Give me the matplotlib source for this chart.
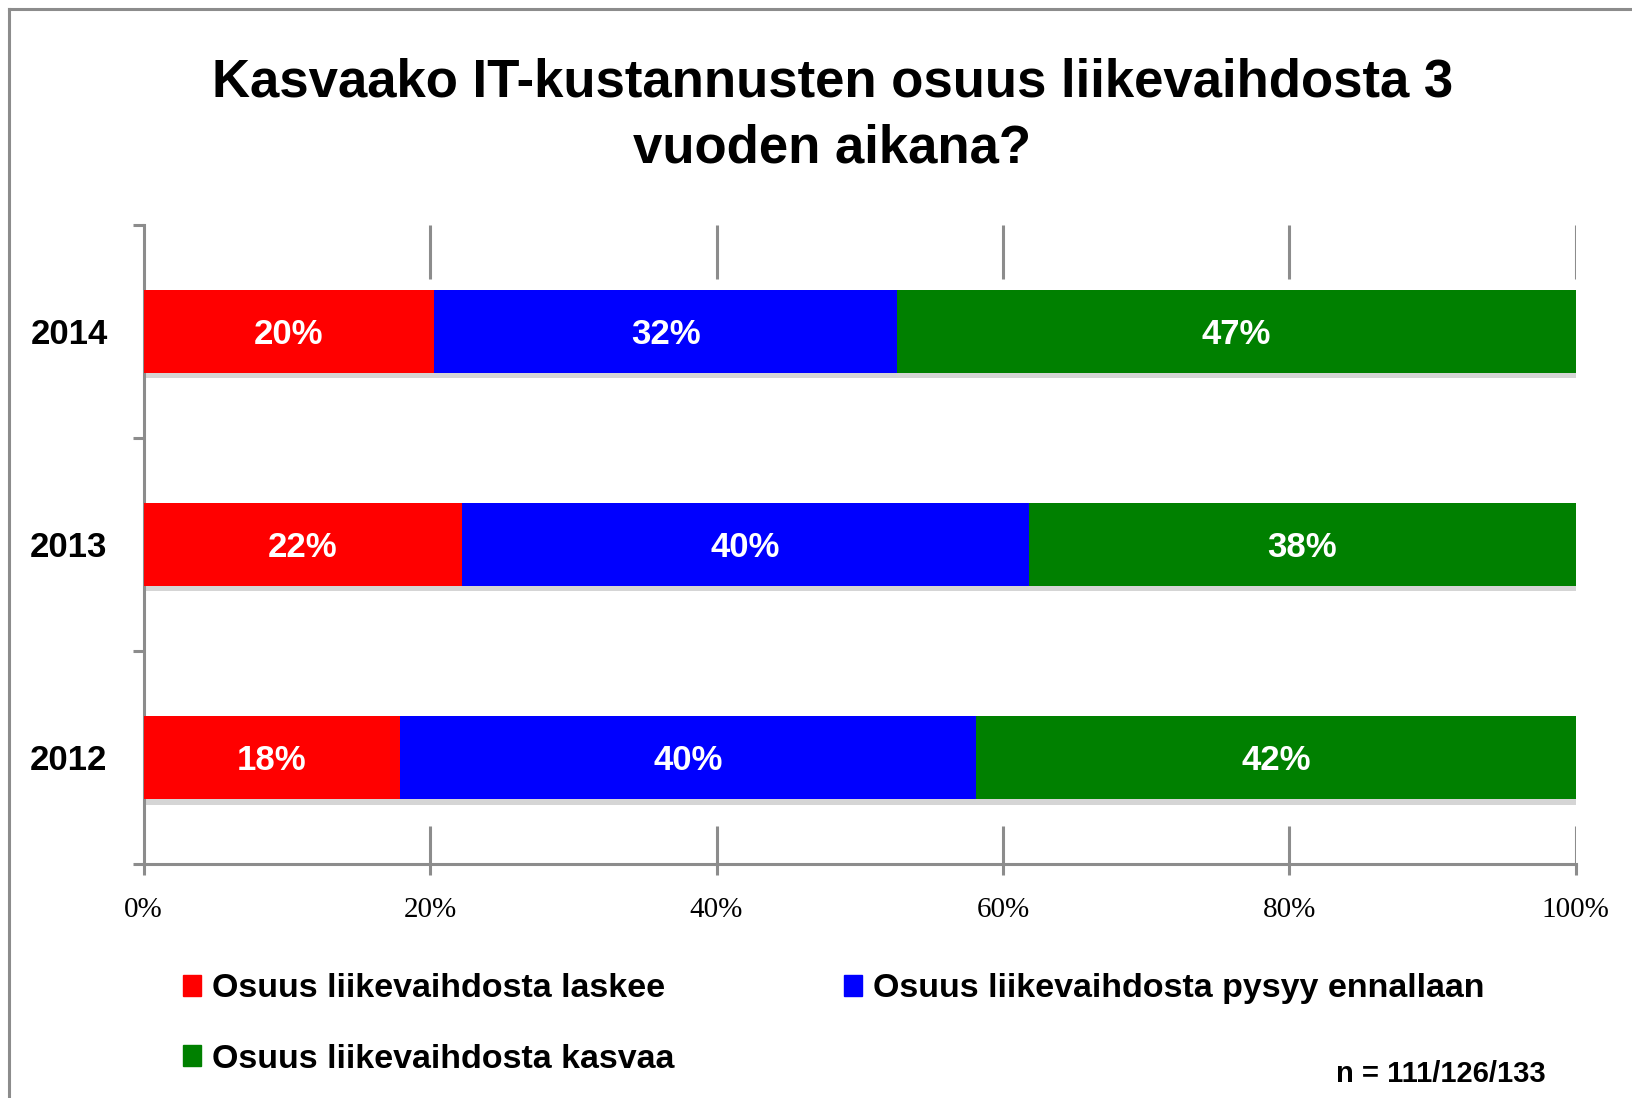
import matplotlib.pyplot as plt
import matplotlib.patheffects as pe
from matplotlib.lines import Line2D
from matplotlib.patches import Patch

years = ['2012', '2013', '2014']
laskee = [17.9, 22.2, 20.3]
pysyy = [40.2, 39.6, 32.3]
kasvaa = [41.9, 38.2, 47.4]

series_names = ['Osuus liikevaihdosta laskee',
                'Osuus liikevaihdosta pysyy ennallaan',
                'Osuus liikevaihdosta kasvaa']
colors = ['#ff0000', '#0000ff', '#008000']
x_ticks = [0, 20, 40, 60, 80, 100]

SANS = 'Liberation Sans'
SERIF = 'Liberation Serif'
GREY = '#8c8c8c'

fig = plt.figure(figsize=(16.32, 10.98), dpi=100)
ax = fig.add_axes([0.088, 0.2131, 0.8776, 0.5822])

shadow = [pe.SimplePatchShadow(offset=(2, -4), shadow_rgbFace='#888888', alpha=0.35),
          pe.Normal()]

ypos = range(len(years))
left = [0] * len(years)
for vals, col in zip((laskee, pysyy, kasvaa), colors):
    bars = ax.barh(ypos, vals, left=left, height=0.39, color=col, zorder=3)
    for b, v, l in zip(bars, vals, left):
        b.set_path_effects(shadow)
        ax.text(l + v / 2, b.get_y() + b.get_height() / 2, f'{round(v)}%',
                ha='center', va='center_baseline', color='white', fontsize=25,
                fontweight='bold', family=SANS, zorder=4)
    left = [a + b for a, b in zip(left, vals)]

ax.set_xlim(0, 100)
ax.set_ylim(-0.5, 2.5)

# short grid stubs only above and below the bars
ax.vlines(x_ticks[1:], 2.246, 2.5, color=GREY, lw=2.2, zorder=1)
ax.vlines(x_ticks[1:], -0.5, -0.32, color=GREY, lw=2.2, zorder=1)

ax.set_xticks(x_ticks)
ax.set_xticklabels([f'{t}%' for t in x_ticks], family=SERIF, fontsize=21)
ax.tick_params(axis='x', length=8, width=2.2, color=GREY, pad=16)

ax.set_yticks(list(ypos))
ax.set_yticklabels(years, family=SANS, fontsize=25, fontweight='bold')
ax.tick_params(axis='y', which='major', length=0, pad=26)
for lbl in ax.get_yticklabels():
    lbl.set_verticalalignment('center_baseline')
ax.set_yticks([-0.5, 0.5, 1.5, 2.5], minor=True)
ax.tick_params(axis='y', which='minor', length=8, width=2.2, color=GREY)

for side in ('top', 'right'):
    ax.spines[side].set_visible(False)
for side in ('left', 'bottom'):
    ax.spines[side].set_color(GREY)
    ax.spines[side].set_linewidth(2.2)

fig.text(0.51, 0.925, 'Kasvaako IT-kustannusten osuus liikevaihdosta 3',
         ha='center', va='center', fontsize=38, fontweight='bold', family=SANS)
fig.text(0.51, 0.865, 'vuoden aikana?',
         ha='center', va='center', fontsize=38, fontweight='bold', family=SANS)

handles = [Patch(color=c, label=n) for c, n in zip(colors, series_names)]
leg_kw = dict(frameon=False, handlelength=0.55, handleheight=0.55,
              handletextpad=0.3, borderpad=0, borderaxespad=0, labelspacing=1.15,
              prop={'family': SANS, 'weight': 'bold', 'size': 24.5})
leg1 = fig.legend([handles[0], handles[2]], [series_names[0], series_names[2]],
                  loc='upper left', **leg_kw)
leg1.set_bbox_to_anchor((0.112, 0.1135), transform=fig.transFigure)
leg2 = fig.legend([handles[1]], [series_names[1]], loc='upper left', **leg_kw)
leg2.set_bbox_to_anchor((0.517, 0.1135), transform=fig.transFigure)

fig.text(0.947, 0.022, 'n = 111/126/133', ha='right', va='center',
         fontsize=21, fontweight='bold', family=SANS)

# figure frame (top and left edges visible)
fig.add_artist(Line2D([0.0055, 1], [0.9918, 0.9918], color=GREY, lw=2.2,
                      transform=fig.transFigure))
fig.add_artist(Line2D([0.0055, 0.0055], [0, 0.9918], color=GREY, lw=2.2,
                      transform=fig.transFigure))

fig.savefig('out.png', dpi=100)
